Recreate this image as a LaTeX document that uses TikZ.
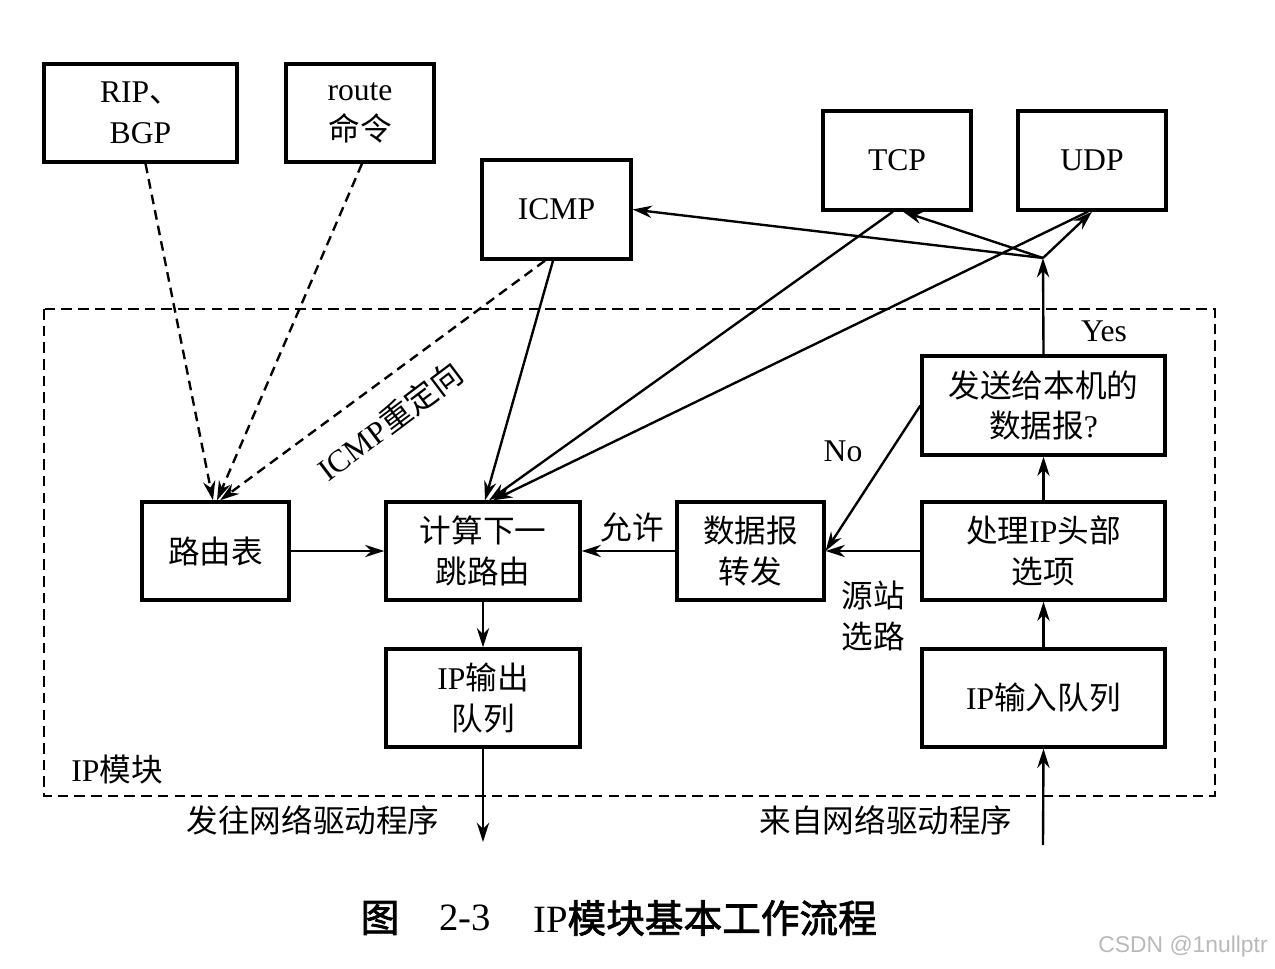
\documentclass[tikz,border=0pt]{standalone}
\usepackage{fontspec}
\setmainfont{Liberation Serif}
\newfontfamily\cjk{Noto Sans CJK SC}
\newfontfamily\cjkb{Noto Sans CJK SC}[FakeBold=2]
\newfontfamily\wmfont{Liberation Sans}
\usetikzlibrary{arrows.meta}
\begin{document}
\begin{tikzpicture}[x=0.02cm,y=-0.02cm,
  box/.style={draw,line width=1.9pt,align=center,inner sep=0pt,font=\fontsize{18}{23}\selectfont},
  lbl/.style={font=\fontsize{18}{23}\selectfont,align=center,inner sep=0pt},
  arr/.style={-{Stealth[length=11pt,width=7pt]},line width=1.35pt},
  darr/.style={arr,dash pattern=on 5.5pt off 3.5pt},
  thinarr/.style={-{Stealth[length=11pt,width=7pt]},line width=0.9pt}]
\useasboundingbox (0,0) rectangle (1275,969);
% module frame
\draw[dash pattern=on 6pt off 3.5pt,line width=1.4pt] (44,309) rectangle (1215,796);
% boxes
\node[box,minimum width=3.86cm,minimum height=1.96cm] (rip) at (140.5,113) {RIP{\cjk 、}\\BGP};
\node[box,minimum width=2.96cm,minimum height=1.96cm] (route) at (360,113) {route\\{\cjk 命令}};
\node[box,minimum width=2.98cm,minimum height=1.98cm] (icmp) at (556.5,209.5) {ICMP};
\node[box,minimum width=2.96cm,minimum height=1.98cm] (tcp) at (897,160.5) {TCP};
\node[box,minimum width=2.96cm,minimum height=1.98cm] (udp) at (1092,160.5) {UDP};
\node[box,minimum width=4.86cm,minimum height=1.98cm] (send) at (1043.5,405.5) {{\cjk 发送给本机的}\\{\cjk 数据报}?};
\node[box,minimum width=2.94cm,minimum height=1.96cm] (rt) at (215.5,551) {{\cjk 路由表}};
\node[box,minimum width=3.88cm,minimum height=1.96cm] (calc) at (483,551) {{\cjk 计算下一}\\{\cjk 跳路由}};
\node[box,minimum width=2.94cm,minimum height=1.96cm] (fwd) at (750.5,551) {{\cjk 数据报}\\{\cjk 转发}};
\node[box,minimum width=4.86cm,minimum height=1.96cm] (proc) at (1043.5,551) {{\cjk 处理}IP{\cjk 头部}\\{\cjk 选项}};
\node[box,minimum width=3.88cm,minimum height=1.96cm] (out) at (483,698) {IP{\cjk 输出}\\{\cjk 队列}};
\node[box,minimum width=4.86cm,minimum height=1.96cm] (in) at (1043.5,698) {IP{\cjk 输入队列}};
% coordinates
\coordinate (j) at (1043,258);
\coordinate (outend) at (483,842);
\coordinate (instart) at (1043,845);
% dashed inputs to routing table
\draw[darr] ([xshift=0.1cm]rip.south) -- ([xshift=-0.05cm]rt.north);
\draw[darr] ([xshift=0.04cm]route.south) -- ([xshift=0.03cm]rt.north);
\draw[darr] ([xshift=-0.23cm]icmp.south) -- ([xshift=0.09cm]rt.north);
\node[lbl,rotate=37] (redir) at (390,421) {ICMP{\cjk 重定向}};
% solid into calc
\draw[arr] ([xshift=-0.07cm]icmp.south) -- ([xshift=0.04cm]calc.north);
\draw[arr] ([xshift=-0.08cm]tcp.south) -- ([xshift=0.12cm]calc.north);
\draw[arr] ([xshift=-0.08cm]udp.south) -- ([xshift=0.2cm]calc.north);
% junction
\draw[arr] (send.north) -- (j);
\draw[arr] (j) -- (icmp.east);
\draw[arr] (j) -- ([xshift=0.12cm]tcp.south);
\draw[arr] (j) -- (udp.south);
% right column
\draw[arr] (send.west) -- (fwd.east);
\draw[arr] (proc.west) -- (fwd.east);
\draw[arr] (fwd.west) -- (calc.east);
\draw[thinarr] (rt.east) -- (calc.west);
\draw[arr] (calc.south) -- (out.north);
\draw[arr] (out.south) -- (outend);
\draw[arr] (instart) -- (in.south);
\draw[arr] (in.north) -- (proc.south);
\draw[arr] (proc.north) -- (send.south);
% labels
\node[lbl] (yes) at (1104,331) {Yes};
\node[lbl] (no) at (843,451) {No};
\node[lbl] (allow) at (632,527) {{\cjk 允许}};
\node[lbl] (srcrt) at (873,616) {{\cjk 源站}\\{\cjk 选路}};
\node[lbl] (ipmod) at (117,770) {IP{\cjk 模块}};
\node[lbl] (tonet) at (313,820) {{\cjk 发往网络驱动程序}};
\node[lbl] (fromnet) at (886,820) {{\cjk 来自网络驱动程序}};
% caption
\node[inner sep=0pt,font=\fontsize{22}{26}\selectfont] (cap1) at (380,918) {{\cjkb 图}};
\node[inner sep=0pt,font=\fontsize{22}{26}\selectfont] (cap2) at (465,918) {2-3};
\node[inner sep=0pt,font=\fontsize{22}{26}\selectfont] (cap3) at (705,918) {IP{\cjkb 模块基本工作流程}};
% watermark
\node[inner sep=0pt,anchor=east,text=gray!55,font=\wmfont\fontsize{13}{15}\selectfont] (wm) at (1268,947) {CSDN @1nullptr};
\end{tikzpicture}
\end{document}
